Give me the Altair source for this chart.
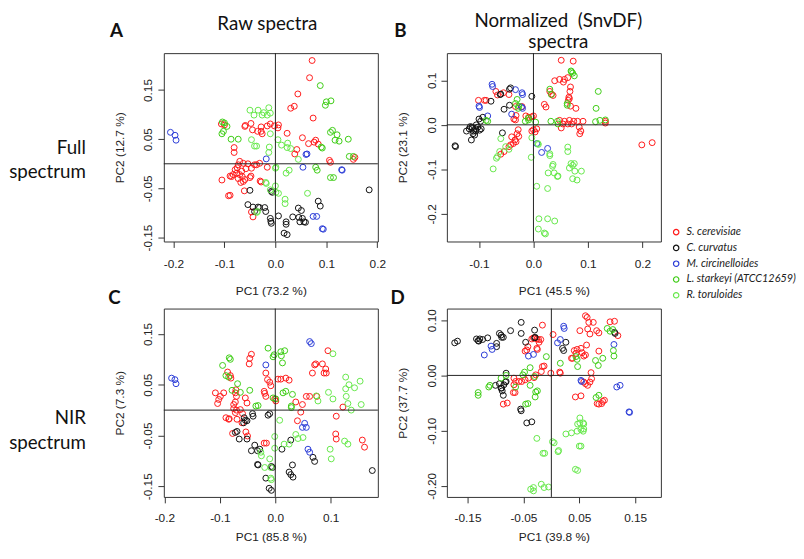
import altair as alt
import pandas as pd

SPECIES = ["S. cerevisiae", "C. curvatus", "M. circinelloides",
           "L. starkeyi (ATCC12659)", "R. toruloides"]
COLORS = ["#FF1A1A", "#111111", "#2A3BD6", "#3DCC14", "#66E84A"]

# ---------------- Panel A : raw spectra, full spectrum ----------------
A_SCER = [(0.072,0.210),(0.067,0.175),(0.044,0.142),(0.030,0.113),(0.037,0.117),(0.074,0.093),
          (-0.106,0.081),(-0.100,0.079),(-0.060,0.076),(-0.059,0.078),(-0.048,0.082),(-0.045,0.069),
          (-0.035,0.066),(-0.028,0.075),(-0.016,0.077),(-0.010,0.081),(-0.002,0.077),(0.006,0.079),
          (0.005,0.073),(-0.028,0.066),(-0.026,0.061),(0.023,0.062),(0.053,0.053),(0.065,0.041),
          (0.076,0.044),(0.079,0.048),(0.084,0.040),(0.042,0.029),(0.038,0.020),(-0.081,0.033),
          (-0.081,0.023),(-0.063,0.001),(-0.070,0.005),(-0.073,-0.002),(-0.054,0.000),(-0.047,-0.009),
          (-0.041,-0.002),(-0.079,-0.012),(-0.076,-0.019),(-0.083,-0.022),(-0.070,-0.022),(-0.066,-0.015),
          (-0.089,-0.025),(-0.086,-0.026),(-0.073,-0.030),(-0.060,-0.032),(-0.050,-0.028),(-0.048,-0.025),
          (-0.105,-0.033),(-0.068,-0.038),(-0.063,-0.036),(-0.030,-0.035),(-0.028,-0.037),(-0.092,-0.065),
          (-0.089,-0.064),(-0.061,-0.055),(-0.016,-0.007),(-0.047,-0.098),(-0.044,-0.108),(0.106,0.007),
          (0.108,0.003),(0.153,0.009),(0.156,0.013),(-0.037,-0.002),(-0.031,0.001),(-0.058,-0.010),
          (-0.075,-0.008),(-0.065,-0.026)]
A_CCUR = [(0.184,-0.053),(-0.008,-0.056),(-0.006,-0.058),(-0.050,-0.054),(-0.054,-0.083),(-0.044,-0.088),
          (-0.034,-0.088),(-0.031,-0.089),(-0.021,-0.089),(-0.041,-0.097),(-0.019,-0.097),(-0.010,-0.111),
          (-0.008,-0.121),(-0.009,-0.117),(0.006,-0.106),(0.021,-0.118),(0.021,-0.123),(0.017,-0.141),
          (0.023,-0.144),(0.034,-0.108),(0.046,-0.109),(0.051,-0.095),(0.053,-0.111),(0.048,-0.118),
          (0.056,-0.118),(0.059,-0.119),(0.045,-0.090),(0.084,-0.076),(0.088,-0.086)]
A_MCIR = [(-0.206,0.064),(-0.197,0.058),(-0.195,0.048),(-0.018,0.010),(0.060,0.019),(0.062,0.020),
          (0.054,-0.007),(0.130,-0.012),(0.131,-0.013),(0.074,-0.107),(0.081,-0.107),(0.092,-0.132),
          (0.094,-0.133)]
A_LSTA = [(0.088,0.159),(0.100,0.126),(0.109,0.128),(0.098,0.119),(-0.104,0.085),(-0.100,0.083),
          (-0.095,0.076),(-0.105,0.061),(-0.102,0.066),(-0.087,0.050),(-0.073,0.050),(0.108,0.064),
          (0.112,0.068),(0.121,0.059),(0.117,0.048),(0.125,0.046),(0.143,0.050),(0.145,0.015),
          (0.153,0.015),(0.108,-0.028),(0.114,-0.028),(0.079,-0.007),(0.082,-0.013),(0.090,0.034),
          (0.092,0.032)]
A_RTOR = [(-0.050,0.109),(-0.034,0.109),(-0.023,0.104),(-0.013,0.114),(-0.010,0.103),(-0.016,0.099),
          (-0.042,0.099),(-0.026,0.099),(-0.047,0.049),(-0.041,0.036),(-0.037,0.036),(-0.010,0.061),
          (-0.012,0.034),(-0.013,0.023),(0.005,0.049),(0.012,0.038),(0.024,0.042),(0.023,0.033),
          (0.030,0.031),(0.045,0.009),(0.000,-0.009),(0.001,-0.007),(0.021,-0.019),(0.027,-0.013),
          (-0.019,-0.038),(-0.018,-0.040),(-0.010,-0.053),(0.000,-0.045),(0.001,-0.058),(0.006,-0.060),
          (0.019,-0.072),(0.019,-0.081),(0.063,-0.060),(-0.035,-0.097),(-0.037,-0.099)]

# ---------------- Panel B : normalized spectra, full spectrum ----------------
B_SCER = [(0.051,0.145),(0.073,0.143),(0.039,0.099),(0.048,0.102),(0.057,0.102),(0.063,0.106),
          (0.055,0.096),(0.067,0.075),(0.068,0.085),(0.030,0.075),(0.033,0.069),(0.036,0.066),
          (0.065,0.062),(0.066,0.059),(0.064,0.055),(0.068,0.042),(0.078,0.037),(0.020,0.046),
          (0.023,0.040),(0.048,0.010),(0.057,0.008),(0.066,0.010),(0.074,0.008),(0.081,0.008),
          (0.091,0.008),(0.054,0.002),(0.063,0.002),(0.070,0.002),(0.051,-0.007),(0.084,-0.005),
          (0.087,-0.014),(0.085,-0.020),(0.132,0.008),(0.132,0.004),(0.199,-0.045),(0.218,-0.040),
          (-0.101,0.055),(-0.090,0.055),(-0.087,0.055),(-0.069,0.075),(-0.066,0.067),(-0.055,0.072),
          (-0.045,0.068),(-0.033,0.041),(-0.032,0.021),(-0.021,0.041),(-0.036,0.013),(-0.033,0.011),
          (-0.014,0.020),(-0.009,0.017),(-0.003,0.018),(0.000,0.020),(-0.003,-0.014),(0.000,-0.011),
          (0.006,-0.009),(0.003,-0.016),(-0.028,-0.011),(-0.030,-0.020),(-0.027,-0.026),(-0.040,-0.027),
          (-0.034,-0.034),(-0.032,-0.038),(-0.037,-0.042),(-0.042,-0.045),(-0.045,-0.049),(-0.054,-0.060),
          (-0.060,-0.066)]
B_CCUR = [(-0.144,-0.047),(-0.143,-0.049),(-0.100,0.013),(-0.097,0.008),(-0.116,-0.004),(-0.112,-0.007),
          (-0.118,-0.009),(-0.110,-0.014),(-0.106,-0.009),(-0.105,0.000),(-0.102,-0.005),(-0.111,-0.020),
          (-0.108,-0.023),(-0.114,-0.034),(-0.106,-0.014),(-0.099,-0.012),(-0.096,-0.009),(-0.113,-0.005),
          (-0.123,-0.014),(-0.078,0.053),(-0.061,0.068),(-0.060,0.069),(-0.044,0.080),(-0.042,0.083),
          (-0.054,0.035),(-0.044,0.044),(-0.057,-0.018),(-0.003,0.064),(-0.093,0.017)]
B_MCIR = [(-0.100,0.042),(-0.099,0.039),(-0.076,0.091),(-0.075,0.086),(-0.033,0.079),(-0.021,0.072),
          (-0.020,0.068),(-0.040,0.024),(-0.022,0.040),(-0.020,0.037),(-0.084,0.020),(0.006,-0.042),
          (0.015,-0.062),(0.026,-0.053)]
B_LSTA = [(0.069,0.121),(0.072,0.116),(0.075,0.110),(0.070,0.119),(0.119,0.075),(0.115,0.037),
          (0.114,0.007),(0.122,0.010),(0.132,0.011),(0.030,0.080),(0.033,0.068),(0.062,0.048),
          (0.062,0.044),(0.032,0.008),(0.045,0.002),(0.044,0.008),(-0.030,0.057),(-0.027,0.042),
          (-0.028,0.037),(-0.015,0.008),(-0.009,0.011),(0.004,0.006),(-0.033,0.048),(-0.009,0.015),
          (-0.087,0.010),(-0.084,0.008)]
B_RTOR = [(-0.003,-0.029),(-0.004,-0.073),(0.008,-0.042),(0.009,-0.044),(-0.060,-0.031),(-0.051,-0.049),
          (-0.045,-0.055),(-0.062,-0.060),(-0.066,-0.071),(-0.068,-0.075),(-0.074,-0.099),(0.030,-0.065),
          (0.030,-0.069),(0.063,-0.050),(0.063,-0.060),(0.036,-0.089),(0.035,-0.093),(0.027,-0.108),
          (0.038,-0.108),(0.044,-0.116),(0.045,-0.115),(0.069,-0.087),(0.072,-0.091),(0.075,-0.087),
          (0.066,-0.097),(0.076,-0.104),(0.072,-0.121),(0.080,-0.124),(0.088,-0.104),(0.006,-0.138),
          (0.026,-0.143),(0.010,-0.211),(0.026,-0.211),(0.039,-0.216),(0.009,-0.234),(0.020,-0.243),
          (0.022,-0.245)]

# ---------------- Panel C : raw spectra, NIR spectrum ----------------
C_SCER = [(0.095,0.117),(-0.043,0.110),(-0.046,0.102),(-0.047,0.091),(-0.086,0.075),(-0.081,0.068),
          (-0.080,0.063),(-0.108,0.034),(-0.102,0.021),(-0.099,0.027),(-0.104,0.013),(-0.093,0.034),
          (-0.071,0.040),(-0.072,0.034),(-0.070,0.027),(-0.072,0.016),(-0.075,0.011),(-0.075,0.003),
          (-0.072,-0.005),(-0.063,0.001),(-0.059,-0.007),(-0.070,0.000),(-0.089,-0.015),(-0.084,-0.018),
          (-0.083,-0.017),(-0.069,-0.018),(-0.060,-0.025),(-0.077,-0.046),(-0.053,-0.043),(-0.050,-0.051),
          (-0.020,0.037),(-0.019,0.033),(-0.017,0.027),(-0.017,0.073),(-0.014,0.060),(-0.010,0.055),
          (-0.008,0.048),(0.005,0.061),(0.010,0.061),(0.019,0.063),(0.025,0.059),(-0.001,0.022),
          (0.001,0.018),(-0.020,-0.065),(-0.016,-0.065),(0.037,0.016),(0.046,-0.004),(0.049,0.011),
          (0.040,-0.021),(0.071,0.089),(0.073,0.091),(0.067,0.073),(0.075,0.027),(0.056,0.027),
          (0.062,0.027),(0.085,0.091),(0.091,0.081),(0.088,0.073),(0.092,0.073),(0.122,0.006),
          (0.110,-0.012),(0.109,-0.047),(0.110,-0.057),(0.157,-0.059),(0.161,-0.073),(-0.054,0.024),
          (-0.051,0.014)]
C_CCUR = [(0.175,-0.119),(-0.010,-0.007),(-0.013,-0.010),(-0.041,-0.007),(-0.040,-0.012),(-0.056,-0.015),
          (-0.051,-0.021),(-0.057,-0.025),(-0.054,-0.020),(-0.069,-0.042),(-0.072,-0.044),(-0.065,-0.057),
          (-0.051,-0.057),(-0.037,-0.069),(-0.043,-0.080),(-0.028,-0.077),(-0.032,-0.080),(-0.032,-0.107),
          (-0.031,-0.108),(-0.007,-0.111),(-0.005,-0.113),(-0.017,-0.134),(-0.011,-0.154),(-0.007,-0.158),
          (0.012,-0.077),(0.028,-0.059),(0.025,-0.122),(0.028,-0.127),(0.032,-0.132),(0.031,-0.108),
          (0.068,-0.093),(0.071,-0.101)]
C_MCIR = [(-0.187,0.063),(-0.181,0.060),(-0.179,0.052),(-0.017,0.089),(0.062,0.135),(0.065,0.131),
          (0.053,-0.026),(0.056,-0.034),(0.049,-0.034),(0.059,-0.077),(0.062,-0.083)]
C_LSTA = [(-0.013,0.122),(0.010,0.115),(0.017,0.117),(0.011,0.107),(-0.004,0.105),(-0.002,0.109),
          (0.013,0.093),(-0.083,0.103),(-0.081,0.100),(-0.095,0.088),(-0.089,0.068),(-0.084,0.065),
          (-0.068,0.052),(-0.078,0.039),(-0.063,0.035),(-0.046,0.039),(-0.035,0.008),(-0.031,0.009),
          (-0.004,0.024),(0.001,0.022),(0.014,0.034),(0.019,0.037),(0.031,0.031),(0.029,0.008),
          (0.029,0.005)]
C_RTOR = [(0.074,0.028),(0.077,0.018),(0.096,0.035),(0.104,0.022),(0.104,0.111),(0.127,0.065),
          (0.133,0.050),(0.127,0.042),(0.143,0.044),(0.153,0.057),(0.128,0.027),(0.131,0.013),
          (0.137,0.000),(0.155,0.011),(0.008,-0.020),(-0.001,-0.052),(-0.001,-0.075),(0.037,-0.048),
          (0.041,-0.056),(0.050,-0.054),(0.016,-0.067),(0.025,-0.067),(0.125,-0.061),(0.131,-0.067),
          (0.099,-0.077),(0.101,-0.096),(-0.026,-0.083),(-0.025,-0.090),(-0.010,-0.096),(-0.008,-0.113),
          (-0.019,-0.113),(-0.008,-0.134),(-0.007,-0.137)]

# ---------------- Panel D : normalized spectra, NIR spectrum ----------------
D_SCER = [(-0.016,0.091),(-0.035,0.066),(-0.032,0.068),(-0.026,0.066),(-0.023,0.065),(-0.022,0.060),
          (-0.019,0.065),(-0.047,0.044),(-0.042,0.052),(-0.044,0.046),(-0.026,0.049),(-0.025,0.047),
          (0.003,0.074),(-0.016,0.016),(-0.013,0.017),(-0.018,0.007),(-0.028,0.001),(-0.031,-0.004),
          (-0.001,0.004),(0.015,0.006),(0.016,0.004),(-0.067,-0.005),(-0.064,-0.011),(-0.058,-0.011),
          (-0.053,-0.011),(-0.067,-0.017),(-0.068,-0.031),(-0.065,-0.031),(-0.047,-0.008),(-0.041,-0.005),
          (-0.086,-0.052),(-0.079,-0.050),(0.051,0.081),(0.061,0.108),(0.064,0.105),(0.067,0.096),
          (0.075,0.096),(0.065,0.084),(0.069,0.075),(0.081,0.081),(0.085,0.077),(0.105,0.097),
          (0.113,0.098),(0.119,0.072),(0.041,0.045),(0.046,0.047),(0.053,0.049),(0.055,0.041),
          (0.063,0.055),(0.044,0.040),(0.061,0.037),(0.036,0.031),(0.038,0.031),(0.058,0.035),
          (0.071,0.005),(0.085,0.044),(0.058,-0.012),(0.061,-0.015),(0.065,-0.018),(0.069,-0.012),
          (0.072,-0.006),(0.043,-0.039),(0.053,-0.037),(0.082,-0.051),(0.085,-0.052),(0.090,-0.051),
          (0.092,-0.047),(0.095,-0.045)]
D_CCUR = [(-0.173,0.059),(-0.168,0.062),(-0.134,0.066),(-0.131,0.063),(-0.128,0.066),(-0.123,0.065),
          (-0.130,0.062),(-0.114,0.068),(-0.098,0.058),(-0.098,0.052),(-0.093,0.076),(-0.089,0.069),
          (-0.090,0.073),(-0.086,0.069),(-0.073,0.081),(-0.054,0.076),(-0.054,0.096),(-0.046,0.060),
          (-0.030,0.082),(-0.029,0.069),(-0.030,0.068),(0.020,0.049),(0.022,0.045),(0.026,0.060),
          (0.113,0.078),(0.114,0.076),(-0.081,0.004),(-0.081,-0.011),(-0.082,-0.012),(-0.100,-0.018),
          (-0.093,-0.015),(-0.090,-0.023),(-0.088,-0.028),(-0.086,-0.036),(-0.085,-0.017),(-0.089,-0.023),
          (-0.055,-0.061),(-0.054,-0.064),(-0.044,-0.086),(-0.035,-0.084)]
D_MCIR = [(-0.120,0.037),(-0.108,0.053),(-0.106,0.047),(-0.041,0.035),(-0.032,0.038),(0.011,0.059),
          (0.016,0.065),(0.022,0.089),(0.023,0.085),(0.054,-0.011),(0.053,-0.009),(0.112,0.056),
          (0.117,-0.021),(0.123,-0.018),(0.139,-0.066),(0.140,-0.067)]
D_LSTA = [(-0.131,-0.031),(-0.131,-0.036),(-0.112,-0.021),(-0.110,-0.018),(-0.090,-0.005),(-0.081,0.000),
          (-0.064,-0.021),(-0.048,0.006),(-0.051,0.001),(-0.038,0.014),(-0.038,-0.018),(-0.030,-0.002),
          (-0.028,-0.030),(-0.025,-0.028),(-0.029,-0.039),(-0.046,-0.052),(-0.042,-0.051),(-0.009,0.034),
          (0.016,0.022),(0.044,0.034),(0.046,0.029),(0.047,0.016),(0.079,0.027),(0.084,0.018),
          (0.092,0.031),(0.080,-0.040),(0.085,-0.036),(0.100,0.085),(0.105,0.080),(0.110,0.083),
          (0.111,0.045),(0.112,0.035)]
D_RTOR = [(0.051,-0.077),(0.057,-0.086),(0.058,-0.088),(0.047,-0.088),(0.053,-0.098),(0.057,-0.101),
          (0.026,-0.106),(0.036,-0.104),(0.046,-0.101),(0.058,-0.097),(0.051,-0.086),(0.050,-0.128),
          (0.053,-0.128),(-0.026,-0.114),(0.002,-0.120),(0.005,-0.122),(-0.015,-0.141),(-0.012,-0.141),
          (0.013,-0.136),(0.012,-0.138),(0.043,-0.170),(0.047,-0.172),(-0.037,-0.206),(-0.032,-0.203),
          (-0.032,-0.209),(-0.018,-0.197),(-0.013,-0.203),(-0.005,-0.202)]

# axis titles / panel texts
X_TITLES = ["PC1 (73.2 %)", "PC1 (45.5 %)", "PC1 (85.8 %)", "PC1 (39.8 %)"]
Y_TITLES = ["PC2 (12.7 %)", "PC2 (23.1 %)", "PC2 (7.3 %)", "PC2 (37.7 %)"]

W, H = 217, 191
AXFONT = "Liberation Sans"
TXTFONT = "Lato"


def make_df(groups):
    rows = []
    for sp, pts in zip(SPECIES, groups):
        for x, y in pts:
            rows.append({"x": x, "y": y, "species": sp})
    return pd.DataFrame(rows)


def lab_expr(shown, dec):
    lst = "[" + ",".join(repr(v) for v in shown) + "]"
    return (f"indexof({lst}, datum.value) >= 0 ? (datum.value < 0 ? '-' : '') + "
            f"format(abs(datum.value), '.{dec}f') : ''")


LEGEND = alt.Legend(title=None, orient="none", legendX=514, legendY=176,
                    labelFont=TXTFONT, labelFontStyle="italic", labelFontSize=11,
                    labelColor="#222", symbolType="circle", symbolSize=30,
                    symbolStrokeWidth=1.2, rowPadding=4, padding=0, labelOffset=5)


def text_layer(txt, x, y, size, weight="normal", align="center"):
    return alt.Chart(pd.DataFrame({"t": [txt]})).mark_text(
        font=TXTFONT, fontSize=size, fontWeight=weight, align=align, baseline="middle",
        color="#111"
    ).encode(text="t:N", x=alt.value(x), y=alt.value(y))


def panel(groups, xdom, ydom, xvals, xshow, xdec, yvals, yshow, ydec, xtitle, ytitle, texts,
          xlabpad, xtitlepad):
    df = make_df(groups)
    pts = alt.Chart(df).mark_point(shape="circle", filled=False, size=36, strokeWidth=1,
                                   opacity=1).encode(
        x=alt.X("x:Q", scale=alt.Scale(domain=xdom, nice=False, zero=False),
                axis=alt.Axis(values=xvals, labelExpr=lab_expr(xshow, xdec), title=xtitle,
                              labelPadding=xlabpad, titlePadding=xtitlepad)),
        y=alt.Y("y:Q", scale=alt.Scale(domain=ydom, nice=False, zero=False),
                axis=alt.Axis(values=yvals, labelExpr=lab_expr(yshow, ydec), title=ytitle,
                              labelAngle=270, labelAlign="center", labelBaseline="bottom",
                              labelPadding=3, titlePadding=16)),
        color=alt.Color("species:N", scale=alt.Scale(domain=SPECIES, range=COLORS), legend=LEGEND),
    )
    zero = pd.DataFrame({"z": [0]})
    vline = alt.Chart(zero).mark_rule(color="#222", strokeWidth=1).encode(x=alt.datum(0))
    hline = alt.Chart(zero).mark_rule(color="#222", strokeWidth=1).encode(y=alt.datum(0))
    layers = [pts, vline, hline] + texts
    return alt.layer(*layers).properties(width=W, height=H)


pA = panel([A_SCER, A_CCUR, A_MCIR, A_LSTA, A_RTOR],
           [-0.219, 0.201], [-0.158, 0.225],
           [-0.2, -0.1, 0, 0.1, 0.2], [-0.2, -0.1, 0, 0.1, 0.2], 1,
           [-0.15, -0.1, -0.05, 0, 0.05, 0.1, 0.15, 0.2], [-0.15, -0.05, 0.05, 0.15], 2,
           X_TITLES[0], Y_TITLES[0],
           [text_layer("A", -48, -22, 19, "bold"),
            text_layer("Raw spectra", 105, -29, 19),
            text_layer("Full", -79, 96, 19, align="right"),
            text_layer("spectrum", -79, 121, 19, align="right")], 11, 17)

pB = panel([B_SCER, B_CCUR, B_MCIR, B_LSTA, B_RTOR],
           [-0.159, 0.234], [-0.262, 0.161],
           [-0.1, 0, 0.1, 0.2], [-0.1, 0, 0.1, 0.2], 1,
           [-0.2, -0.1, 0, 0.1], [-0.2, -0.1, 0, 0.1], 1,
           X_TITLES[1], Y_TITLES[1],
           [text_layer("B", -47, -22, 19, "bold"),
            text_layer("Normalized\u00a0 (SnvDF)", 113, -32, 19),
            text_layer("spectra", 113, -11, 19)], 11, 17)

pC = panel([C_SCER, C_CCUR, C_MCIR, C_LSTA, C_RTOR],
           [-0.201, 0.185], [-0.171, 0.2],
           [-0.2, -0.1, 0, 0.1], [-0.2, -0.1, 0, 0.1], 1,
           [-0.15, -0.1, -0.05, 0, 0.05, 0.1, 0.15, 0.2], [-0.15, -0.05, 0.05, 0.15], 2,
           X_TITLES[2], Y_TITLES[2],
           [text_layer("C", -50, -11, 19, "bold"),
            text_layer("NIR", -79, 111, 19, align="right"),
            text_layer("spectrum", -79, 136, 19, align="right")], 10, 8)

pD = panel([D_SCER, D_CCUR, D_MCIR, D_LSTA, D_RTOR],
           [-0.187, 0.196], [-0.220, 0.121],
           [-0.15, -0.1, -0.05, 0, 0.05, 0.1, 0.15], [-0.15, -0.05, 0.05, 0.15], 2,
           [-0.2, -0.15, -0.1, -0.05, 0, 0.05, 0.1], [-0.2, -0.1, 0, 0.1], 2,
           X_TITLES[3], Y_TITLES[3],
           [text_layer("D", -50, -11, 19, "bold")], 10, 8)

chart = alt.concat(pA, pB, pC, pD, columns=2, spacing={"row": 68, "column": 70},
                   bounds="flush").properties(
    padding={"top": 0, "left": 0, "right": 0, "bottom": 0}
).configure_view(
    stroke="#333", strokeWidth=1
).configure_axis(
    domain=False, grid=False, tickColor="#333", tickSize=6, tickWidth=1,
    labelFont=AXFONT, labelFontSize=12, labelColor="#222",
    titleFont=AXFONT, titleFontSize=12, titleFontWeight="normal", titleColor="#222",
    labelFlush=False, labelOverlap=False
)

chart.save("out.html", embed_options={"renderer": "svg", "actions": False})
